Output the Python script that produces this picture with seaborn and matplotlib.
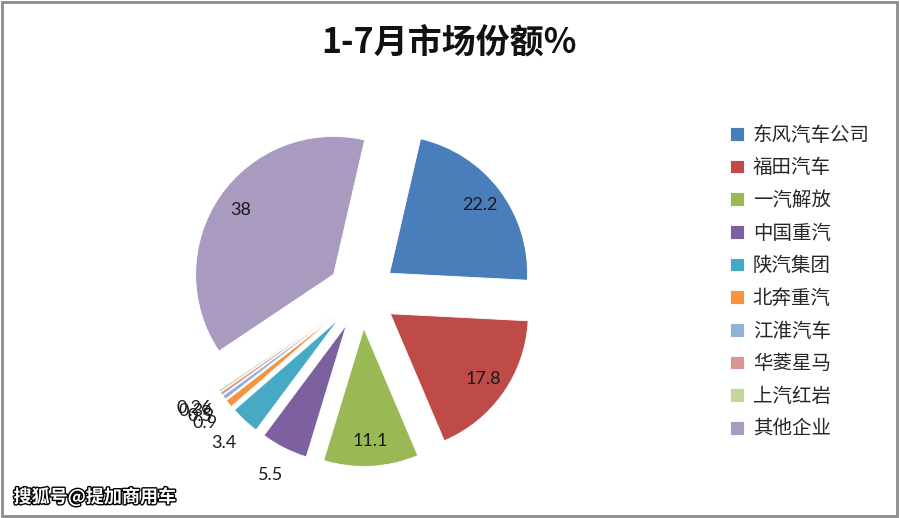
import matplotlib
matplotlib.use("Agg")
import matplotlib.pyplot as plt
import matplotlib.patheffects as pe
import seaborn as sns
import numpy as np
from matplotlib.patches import Rectangle

companies = ["东风汽车公司", "福田汽车", "一汽解放", "中国重汽", "陕汽集团",
             "北奔重汽", "江淮汽车", "华菱星马", "上汽红岩", "其他企业"]
shares = [22.2, 17.8, 11.1, 5.5, 3.4, 0.9, 0.5, 0.36, 0.26, 38]
labels = ["22.2", "17.8", "11.1", "5.5", "3.4", "0.9", "0.5", "0.36", "0.26", "38"]
colors = ["#4A7EBB", "#BE4B48", "#98B954", "#7D60A0", "#46AAC5",
          "#F69240", "#92B1D8", "#D99594", "#C3D69B", "#A99BC0"]


def main():
    sns.set_theme(style="white")
    plt.rcParams["font.family"] = ["Noto Sans CJK SC", "DejaVu Sans"]

    fig = plt.figure(figsize=(9, 5.18), dpi=100)
    ax = fig.add_axes([0.2106, 0.0994, 0.3833, 0.666])

    explode = 0.25
    wedges, _ = ax.pie(shares, colors=colors, startangle=77, counterclock=False,
                       explode=[explode] * len(shares),
                       wedgeprops=dict(edgecolor="white", linewidth=0.6))
    ax.set_xlim(-1.25, 1.25)
    ax.set_ylim(-1.25, 1.25)
    ax.set_aspect("equal")
    ax.axis("off")

    for w, lab, val in zip(wedges, labels, shares):
        ang = np.deg2rad((w.theta1 + w.theta2) / 2)
        cx, cy = w.center
        r = 0.82 if val >= 10 else 1.22
        x = cx + r * np.cos(ang)
        y = cy + r * np.sin(ang)
        ax.text(x, y, lab, ha="center", va="center", fontsize=13,
                color="#1a1a1a", family=["Lato", "DejaVu Sans"])

    fig.text(0.499, 0.918, "1-7月市场份额%", ha="center", va="center",
             fontsize=24.5, fontweight="bold", color="#111111")

    fig.legend(wedges, companies, loc="upper left",
               bbox_to_anchor=(0.792, 0.793), frameon=False,
               fontsize=14, handlelength=0.7, handleheight=0.7,
               handletextpad=0.45, labelspacing=0.6)

    fig.patches.append(Rectangle((0.002, 0.003), 0.995, 0.993,
                                 transform=fig.transFigure, fill=False,
                                 edgecolor="#8C8C8C", linewidth=2))

    fig.text(0.015, 0.04, "搜狐号@提加商用车", ha="left", va="center",
             fontsize=13, fontweight="bold", color="white",
             path_effects=[pe.withStroke(linewidth=2, foreground="black")])

    fig.savefig("out.png", dpi=100)


if __name__ == "__main__":
    main()
